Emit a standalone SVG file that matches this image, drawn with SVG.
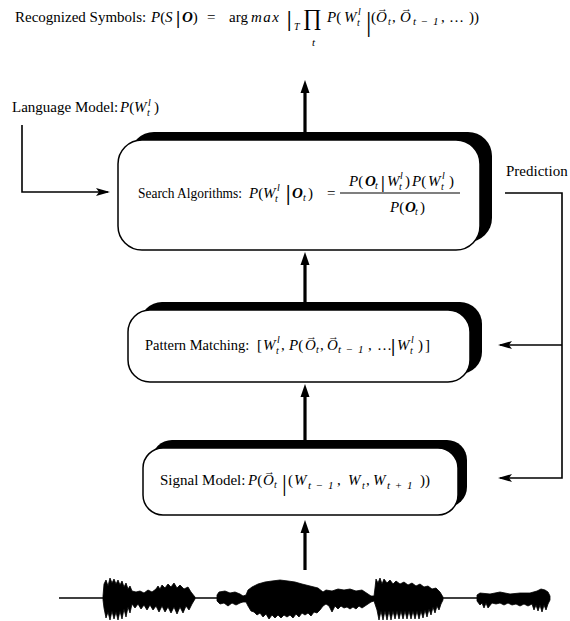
<svg xmlns="http://www.w3.org/2000/svg" width="570" height="621" viewBox="0 0 570 621">
<defs>
<style>
svg{font-family:"Liberation Serif","Times New Roman",serif;font-size:15px}
text{fill:#000}
.i{font-style:italic}
.b{font-weight:bold}
.s{font-size:10px;font-style:italic}
.s2{font-size:11px;font-style:italic;letter-spacing:1px}
.v{font-size:11px;font-weight:bold;font-style:normal}
.shadow{fill:#000}
.box{fill:#fff;stroke:#000;stroke-width:1.5}
.thin{fill:none;stroke:#000;stroke-width:1.6}
.thick{fill:none;stroke:#000;stroke-width:3.2}
.wave{fill:#000;stroke:#000;stroke-width:0.8}
</style>
<marker id="ah" markerUnits="userSpaceOnUse" markerWidth="16" markerHeight="12" refX="12" refY="6" orient="auto"><path d="M14,6 L0,2 L3,6 L0,10 Z" fill="#000"/></marker>
<marker id="ahT" markerUnits="userSpaceOnUse" markerWidth="16" markerHeight="12" refX="6" refY="6" orient="auto"><path d="M14,6 L1,1.5 L1,10.5 Z" fill="#000"/></marker>
</defs>

<g id="title">
<text y="22"><tspan x="15">Recognized Symbols:</tspan><tspan x="151" class="i">P</tspan><tspan>(</tspan><tspan x="165" class="i">S</tspan><tspan x="176" y="24" class="b" font-size="19">|</tspan><tspan x="182" y="22" class="i b">O</tspan><tspan>)</tspan><tspan x="207">=</tspan><tspan x="229">arg</tspan><tspan x="251" class="i" letter-spacing="1.5">max</tspan><tspan x="287" y="26" class="b" font-size="20">|</tspan><tspan x="294" y="30" class="s">T</tspan></text>
<text x="303" y="25" font-size="23">∏</text>
<text x="312" y="46" class="i" font-size="11">t</text>
<text y="22"><tspan x="327" class="i">P</tspan><tspan>(</tspan><tspan x="344" class="i">W</tspan><tspan x="358" y="15" class="s">l</tspan><tspan x="357" y="26" class="s">t</tspan><tspan x="366" y="31" font-size="27">|</tspan><tspan x="371" y="22">(</tspan><tspan x="376" class="i">O</tspan><tspan x="377" y="12" class="v">→</tspan><tspan x="388" y="25" class="s">t</tspan><tspan x="392" y="22">,</tspan><tspan x="400" class="i">O</tspan><tspan x="401" y="12" class="v">→</tspan><tspan x="413" y="25" class="s2">t − 1</tspan><tspan x="441" y="22">,</tspan><tspan x="449">…</tspan><tspan x="469">))</tspan></text>
</g>

<g id="language-model">
<text y="112"><tspan x="12">Language Model:</tspan><tspan x="120" class="i">P</tspan><tspan>(</tspan><tspan x="134" class="i">W</tspan><tspan x="148" y="106" class="s">l</tspan><tspan x="147" y="116" class="s">t</tspan><tspan x="154" y="112">)</tspan></text>
</g>

<g id="prediction-label">
<text x="506" y="176">Prediction</text>
</g>

<g id="search">
<rect class="shadow" x="130" y="132" width="362" height="110" rx="24"/>
<rect class="box" x="118" y="140" width="362" height="110" rx="24"/>
<text x="138" y="198" font-size="14.5" textLength="104" lengthAdjust="spacingAndGlyphs">Search Algorithms:</text>
<text y="198"><tspan x="249" class="i">P</tspan><tspan>(</tspan><tspan x="263" class="i">W</tspan><tspan x="277" y="191" class="s">l</tspan><tspan x="275" y="202" class="s">t</tspan><tspan x="286" y="200" class="b" font-size="20">|</tspan><tspan x="292" y="198" class="i b">O</tspan><tspan x="303" y="201" class="s">t</tspan><tspan x="308" y="198">)</tspan><tspan x="327">=</tspan></text>
<line x1="340" y1="193" x2="460" y2="193" stroke="#000" stroke-width="1.2"/>
<text y="186"><tspan x="349" class="i">P</tspan><tspan>(</tspan><tspan x="365" class="i b">O</tspan><tspan x="375" y="189" class="s">t</tspan><tspan x="381" y="188" class="b" font-size="17">|</tspan><tspan x="387" y="186" class="i">W</tspan><tspan x="400" y="179" class="s">l</tspan><tspan x="399" y="190" class="s">t</tspan><tspan x="405" y="186">)</tspan><tspan x="412" class="i">P</tspan><tspan>(</tspan><tspan x="428" class="i">W</tspan><tspan x="442" y="179" class="s">l</tspan><tspan x="441" y="190" class="s">t</tspan><tspan x="449" y="186">)</tspan></text>
<text y="212"><tspan x="390" class="i">P</tspan><tspan>(</tspan><tspan x="405" class="i b">O</tspan><tspan x="415" y="215" class="s">t</tspan><tspan x="420" y="212">)</tspan></text>
</g>

<g id="pattern">
<rect class="shadow" x="140" y="302" width="342" height="72" rx="22"/>
<rect class="box" x="128" y="310" width="342" height="72" rx="22"/>
<text y="350"><tspan x="145" font-size="14.5">Pattern Matching:</tspan><tspan x="257">[</tspan><tspan x="263" class="i">W</tspan><tspan x="277" y="343" class="s">l</tspan><tspan x="276" y="354" class="s">t</tspan><tspan x="281" y="350">,</tspan><tspan x="289" class="i">P</tspan><tspan>(</tspan><tspan x="305" class="i">O</tspan><tspan x="306" y="340" class="v">→</tspan><tspan x="316" y="353" class="s">t</tspan><tspan x="320" y="350">,</tspan><tspan x="327" class="i">O</tspan><tspan x="328" y="340" class="v">→</tspan><tspan x="338" y="353" class="s2">t − 1</tspan><tspan x="368" y="350">,</tspan><tspan x="377">…</tspan><tspan x="391" y="352" class="b" font-size="19">|</tspan><tspan x="397" y="350" class="i">W</tspan><tspan x="411" y="343" class="s">l</tspan><tspan x="410" y="354" class="s">t</tspan><tspan x="418" y="350">)</tspan><tspan x="425">]</tspan></text>
</g>

<g id="signal">
<rect class="shadow" x="152" y="440" width="315" height="67" rx="20"/>
<rect class="box" x="143" y="448" width="315" height="67" rx="20"/>
<text y="485"><tspan x="160">Signal Model:</tspan><tspan x="248" class="i">P</tspan><tspan>(</tspan><tspan x="263" class="i">O</tspan><tspan x="264" y="475" class="v">→</tspan><tspan x="274" y="488" class="s">t</tspan><tspan x="282" y="491" font-size="24">|</tspan><tspan x="288" y="485">(</tspan><tspan x="294" class="i">W</tspan><tspan x="308" y="489" class="s2">t − 1</tspan><tspan x="337" y="485">,</tspan><tspan x="348" class="i">W</tspan><tspan x="362" y="489" class="s">t</tspan><tspan x="366" y="485">,</tspan><tspan x="373" class="i">W</tspan><tspan x="387" y="489" class="s2">t + 1</tspan><tspan x="420" y="485">))</tspan></text>
</g>

<g id="waveform">
<path class="thin" d="M59,598 H550"/>
<path class="wave" d="M103,596 L104,584 L106,580 L108,586 L110,578 L112,583 L114,579 L116,584 L118,580 L120,585 L122,581 L124,587 L126,583 L128,589 L130,586 L132,591 L136,592 L140,591 L144,593 L148,590 L152,592 L156,589 L158,586 L160,589 L162,585 L165,588 L168,584 L171,587 L174,583 L177,588 L180,585 L184,589 L188,587 L191,592 L195,597 L195,599 L192,604 L189,610 L186,606 L183,613 L180,607 L177,614 L174,607 L171,613 L168,607 L165,612 L162,606 L159,612 L156,606 L153,610 L150,605 L147,610 L144,605 L141,609 L138,604 L135,608 L132,604 L130,613 L128,607 L126,617 L124,609 L122,619 L120,611 L118,620 L116,612 L114,619 L112,611 L110,620 L108,612 L106,618 L104,608 L103,600 Z"/>
<path class="wave" d="M217,595 L219,592 L225,591 L230,593 L235,592 L240,594 L243,596 L246,595 L248,590 L252,587 L258,584 L265,582 L272,581 L280,580 L288,581 L295,582 L302,584 L310,586 L318,588 L323,592 L326,590 L332,591 L338,589 L344,590 L350,589 L356,591 L362,590 L368,594 L371,596 L374,596 L375,588 L376,579 L378,583 L380,578 L382,584 L384,579 L387,583 L390,580 L393,584 L396,581 L400,584 L404,582 L408,585 L412,583 L416,586 L420,584 L424,587 L428,586 L432,589 L436,588 L440,592 L443,597 L443,600 L441,604 L439,610 L437,606 L435,613 L433,607 L431,615 L429,609 L427,617 L425,610 L423,618 L421,611 L419,619 L417,611 L415,619 L413,611 L411,619 L409,611 L407,619 L405,611 L403,619 L401,611 L399,619 L397,611 L395,619 L393,611 L391,620 L389,611 L387,620 L385,611 L383,620 L381,611 L379,620 L377,610 L375,604 L374,601 L371,602 L368,604 L365,606 L362,608 L359,606 L356,609 L353,607 L350,609 L347,607 L344,608 L341,606 L338,609 L335,606 L332,612 L329,606 L326,604 L323,606 L320,610 L317,613 L314,612 L311,616 L308,613 L305,615 L302,613 L299,617 L296,614 L293,618 L290,615 L287,617 L284,615 L281,618 L278,615 L275,618 L272,615 L269,619 L266,614 L263,617 L260,613 L257,615 L254,612 L251,611 L248,606 L246,602 L243,602 L240,603 L236,605 L232,603 L228,606 L224,603 L220,604 L217,601 Z"/>
<path class="wave" d="M477,595 L480,593 L490,594 L500,592 L510,594 L520,593 L530,593 L537,591 L541,589 L545,590 L548,592 L550,596 L550,600 L548,604 L546,610 L544,605 L542,612 L540,605 L538,611 L536,605 L534,610 L532,604 L528,606 L524,604 L520,606 L516,604 L512,605 L508,603 L504,605 L500,603 L496,604 L492,603 L488,608 L486,603 L484,608 L482,603 L480,605 L477,601 Z"/>
</g>

<g id="connectors">
<line class="thick" x1="305" y1="132" x2="305" y2="88" marker-end="url(#ahT)"/>
<line class="thick" x1="305" y1="302" x2="305" y2="260" marker-end="url(#ahT)"/>
<line class="thick" x1="305" y1="440" x2="305" y2="392" marker-end="url(#ahT)"/>
<line class="thick" x1="305" y1="570" x2="305" y2="528" marker-end="url(#ahT)"/>
<polyline class="thin" points="22,125 22,192 108,192" marker-end="url(#ah)"/>
<polyline class="thin" points="505,193 562,193 562,478 500,478" marker-end="url(#ah)"/>
<line class="thin" x1="562" y1="345" x2="500" y2="345" marker-end="url(#ah)"/>
</g>
</svg>
